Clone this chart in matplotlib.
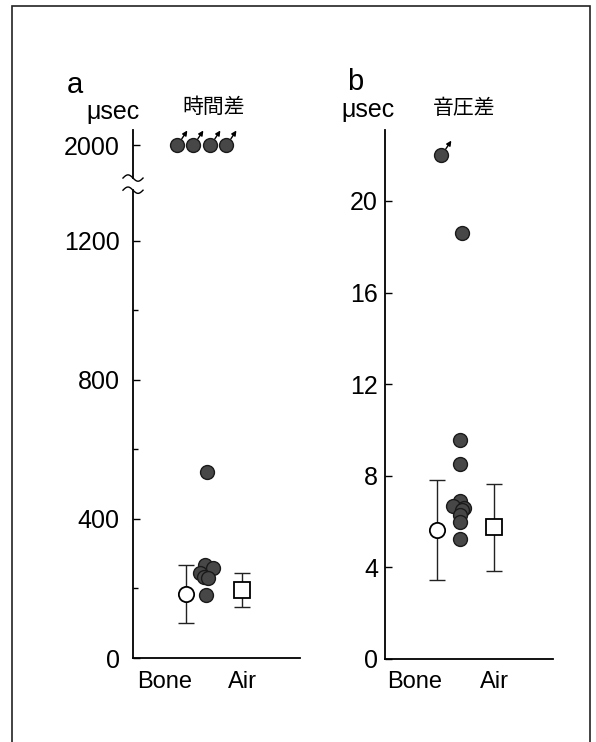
import numpy as np
import matplotlib
matplotlib.use("Agg")
import matplotlib.pyplot as plt
from matplotlib.patches import Rectangle
from matplotlib.transforms import offset_copy

plt.rcParams['font.family'] = ['Liberation Sans', 'Noto Sans CJK JP']

# --- a: 時間差 (usec) ---
a_groups = ['Bone', 'Air']
a_group_x = [1.9, 6.55]
a_ind_x = [4.31, 4.79, 4.01, 4.25, 4.5, 4.37, 4.45]
a_ind_y = [268, 258, 245, 234, 230, 180, 534]
a_over_x = [2.63, 3.59, 4.61, 5.57]       # values off the top of the scale
a_over_y = [2000, 2000, 2000, 2000]
a_mean_x = [3.17, 6.53]
a_mean_y = [184, 196]
a_mean_err = [83, 48]
a_yticks = [0, 400, 800, 1200, 2000]
a_yminor = [200, 600, 1000]

# --- b: 音圧差 ---
b_groups = ['Bone', 'Air']
b_group_x = [1.79, 6.49]
b_ind_x = [4.58, 4.46, 4.46, 4.46, 4.05, 4.7, 4.6, 4.46, 4.46, 4.46]
b_ind_y = [18.6, 9.56, 8.5, 6.9, 6.7, 6.6, 6.5, 6.3, 6.0, 5.25]
b_over_x = [3.33]
b_over_y = [22.0]
b_mean_x = [3.1, 6.49]
b_mean_y = [5.62, 5.76]
b_mean_err = [2.18, 1.9]
b_yticks = [0, 4, 8, 12, 16, 20]

W, H = 596, 742
fig = plt.figure(figsize=(W / 100, H / 100), dpi=100)


def px(x0, y0, x1, y1):
    # pixel box -> figure fraction rect
    return [x0 / W, 1 - y1 / H, (x1 - x0) / W, (y1 - y0) / H]


ax_a = fig.add_axes(px(133, 130, 300, 658))
ax_b = fig.add_axes(px(385, 130, 553, 659))

# compressed segment above the break on the time axis
BRK, K = 1360.0, 0.181


def fwd(y):
    y = np.asarray(y, dtype=float)
    return np.where(y <= BRK, y, BRK + (y - BRK) * K)


def inv(y):
    y = np.asarray(y, dtype=float)
    return np.where(y <= BRK, y, BRK + (y - BRK) / K)


ax_a.set_yscale('function', functions=(fwd, inv))

dot = dict(marker='o', ms=10, mfc='#474747', mec='#1a1a1a', mew=1.0, ls='none', zorder=4)


def draw_means(ax, xs, ys, errs):
    for x, y, e, m in zip(xs, ys, errs, ['o', 's']):
        ax.errorbar([x], [y], yerr=[e], fmt='none', ecolor='#222222', elinewidth=1.0,
                    capsize=6, capthick=1.0, zorder=2)
        ax.plot([x], [y], marker=m, ms=11, mfc='white', mec='black', mew=1.3, ls='none', zorder=5)


def draw_arrows(ax, xs, ys):
    tail = offset_copy(ax.transData, fig=fig, x=3.5, y=4.5, units='points')
    head = offset_copy(ax.transData, fig=fig, x=7.5, y=10.5, units='points')
    for x, y in zip(xs, ys):
        ax.annotate('', xy=(x, y), xycoords=head, xytext=(x, y), textcoords=tail,
                    arrowprops=dict(arrowstyle='-|>', lw=1.0, color='black',
                                    mutation_scale=7, shrinkA=0, shrinkB=0), zorder=6)


# panel a
ax_a.plot(a_ind_x, a_ind_y, **dot)
ax_a.plot(a_over_x, a_over_y, **dot)
draw_arrows(ax_a, a_over_x, a_over_y)
draw_means(ax_a, a_mean_x, a_mean_y, a_mean_err)
ax_a.set_xlim(0, 10)
ax_a.set_ylim(0, 2240)
ax_a.set_yticks(a_yticks)
ax_a.set_yticks(a_yminor, minor=True)
ax_a.set_yticklabels([str(v) for v in a_yticks])

# panel b
ax_b.plot(b_ind_x, b_ind_y, **dot)
ax_b.plot(b_over_x, b_over_y, **dot)
draw_arrows(ax_b, b_over_x, b_over_y)
draw_means(ax_b, b_mean_x, b_mean_y, b_mean_err)
ax_b.set_xlim(0, 10)
ax_b.set_ylim(0, 23.1)
ax_b.set_yticks(b_yticks)
ax_b.set_yticklabels([str(v) for v in b_yticks])

for ax, gx, gl, ypad in [(ax_a, a_group_x, a_groups, 9.5), (ax_b, b_group_x, b_groups, 5)]:
    ax.set_xticks(gx, gl)
    for s in ['top', 'right']:
        ax.spines[s].set_visible(False)
    ax.spines['left'].set_linewidth(1.3)
    ax.spines['bottom'].set_linewidth(1.3)
    ax.tick_params(axis='x', length=0, pad=9, labelsize=17)
    ax.tick_params(axis='y', which='major', direction='in', length=5, width=1.0, pad=ypad, labelsize=18)
    ax.tick_params(axis='y', which='minor', direction='in', length=3.5, width=1.0)

# broken left spine on panel a with wavy break marks
ax_a.spines['left'].set_visible(False)
lo, hi = 0.886, 0.909
ax_a.plot([0, 0], [0, lo], transform=ax_a.transAxes, color='black', lw=1.3, clip_on=False, zorder=3)
ax_a.plot([0, 0], [hi, 1], transform=ax_a.transAxes, color='black', lw=1.3, clip_on=False, zorder=3)
t = np.linspace(0, 1, 40)
for base in (lo, hi):
    ax_a.plot(-0.06 + 0.12 * t, base + 0.006 * np.sin(2 * np.pi * t), transform=ax_a.transAxes,
              color='black', lw=1.0, clip_on=False, zorder=3)

# panel letters, units and titles
fig.text(75 / W, 1 - 85 / H, 'a', fontsize=21, ha='center', va='center')
fig.text(113 / W, 1 - 112 / H, 'μsec', fontsize=18, ha='center', va='center')
fig.text(214 / W, 1 - 107 / H, '時間差', fontsize=15, ha='center', va='center')
fig.text(355 / W, 1 - 82 / H, 'b', fontsize=21, ha='center', va='center')
fig.text(368 / W, 1 - 110 / H, 'μsec', fontsize=18, ha='center', va='center')
fig.text(464 / W, 1 - 108 / H, '音圧差', fontsize=15, ha='center', va='center')

# outer frame
fig.add_artist(Rectangle((12 / W, -0.05), (590 - 12) / W, 1 - 6 / H + 0.05,
                         transform=fig.transFigure, fill=False, lw=1.2, ec='#222222'))

fig.savefig('out.png', dpi=100)
